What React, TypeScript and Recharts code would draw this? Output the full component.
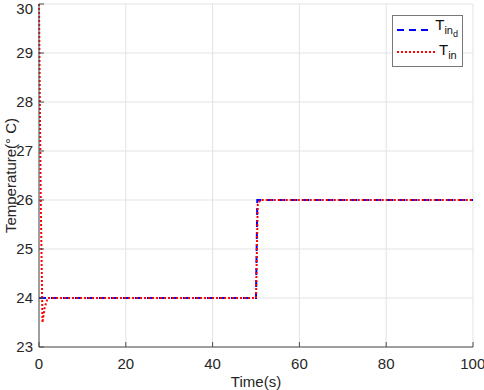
import { CartesianGrid, Line, LineChart, XAxis, YAxis } from "recharts";

const X_TICKS = [0, 20, 40, 60, 80, 100];
const Y_TICKS = [23, 24, 25, 26, 27, 28, 29, 30];

// desired indoor temperature
const tinDTime = [0, 50, 50.3, 100];
const tinDValue = [24, 24, 26, 26];

// actual indoor temperature
const tinTime = [0, 0.4, 0.8, 1.3, 2, 50, 50.4, 51, 100];
const tinValue = [30, 26, 23.5, 23.8, 24, 24, 25.9, 26, 26];

const tinDData = tinDTime.map((t, i) => ({ t, v: tinDValue[i] }));
const tinData = tinTime.map((t, i) => ({ t, v: tinValue[i] }));

const FONT = "'Liberation Sans', Arial, sans-serif";
const AXIS = "#4d4d4d";
const tickStyle = { fill: "#262626", fontSize: 15, fontFamily: FONT };

function LegendBox() {
  return (
    <div
      style={{
        position: "absolute",
        left: 392,
        top: 15,
        border: "1px solid #777",
        background: "#fff",
        width: 71,
        height: 52,
        boxSizing: "border-box",
        fontFamily: FONT,
        fontSize: 15,
        color: "#111",
        padding: "3px 4px",
      }}
    >
      <div style={{ display: "flex", alignItems: "center", height: 22 }}>
        <svg width="40" height="4">
          <line x1="0" y1="2" x2="40" y2="2" stroke="#0000ff" strokeWidth={2} strokeDasharray="7 5" />
        </svg>
        <span style={{ marginLeft: 2, lineHeight: "15px" }}>
          T<sub style={{ fontSize: 11 }}>in<sub style={{ fontSize: 9 }}>d</sub></sub>
        </span>
      </div>
      <div style={{ display: "flex", alignItems: "center", height: 22 }}>
        <svg width="40" height="4">
          <line x1="0" y1="2" x2="40" y2="2" stroke="#ff0000" strokeWidth={2} strokeDasharray="2 2" />
        </svg>
        <span style={{ marginLeft: 2, lineHeight: "15px" }}>
          T<sub style={{ fontSize: 11 }}>in</sub>
        </span>
      </div>
    </div>
  );
}

export default function App() {
  return (
    <div style={{ position: "relative", width: 484, height: 390, background: "#fff" }}>
      <style>{"body{margin:0}"}</style>
      <LineChart width={484} height={390} margin={{ top: 4, right: 11, left: 0, bottom: 0 }}>
        <CartesianGrid stroke="#e3e3e3" strokeWidth={1} />
        <XAxis
          dataKey="t"
          type="number"
          domain={[0, 100]}
          ticks={X_TICKS}
          allowDuplicatedCategory={false}
          stroke={AXIS}
          tick={tickStyle}
          tickSize={-5}
          tickMargin={16}
          height={43}
          label={{ value: "Time(s)", position: "insideBottom", offset: 3, fill: "#262626", fontSize: 15, fontFamily: FONT }}
        />
        <XAxis
          xAxisId="top"
          orientation="top"
          type="number"
          domain={[0, 100]}
          ticks={X_TICKS}
          stroke={AXIS}
          tickFormatter={() => ""}
          tickSize={-5}
          height={0}
        />
        <YAxis
          dataKey="v"
          type="number"
          domain={[23, 30]}
          ticks={Y_TICKS}
          stroke={AXIS}
          tick={tickStyle}
          tickSize={-5}
          tickMargin={11}
          width={39}
          label={{
            value: "Temperature(° C)",
            angle: -90,
            position: "insideLeft",
            offset: 11,
            fill: "#262626",
            fontSize: 15,
            fontFamily: FONT,
            style: { textAnchor: "middle" },
          }}
        />
        <YAxis
          yAxisId="right"
          orientation="right"
          type="number"
          domain={[23, 30]}
          ticks={Y_TICKS}
          stroke={AXIS}
          tickFormatter={() => ""}
          tickSize={-5}
          width={0}
        />
        <Line
          data={tinDData}
          dataKey="v"
          name="Tin_d"
          type="linear"
          stroke="#0000ff"
          strokeWidth={2}
          strokeDasharray="7 5"
          dot={false}
          isAnimationActive={false}
        />
        <Line
          data={tinData}
          dataKey="v"
          name="Tin"
          type="linear"
          stroke="#ff0000"
          strokeWidth={2}
          strokeDasharray="2 2"
          dot={false}
          isAnimationActive={false}
        />
      </LineChart>
      <LegendBox />
    </div>
  );
}
